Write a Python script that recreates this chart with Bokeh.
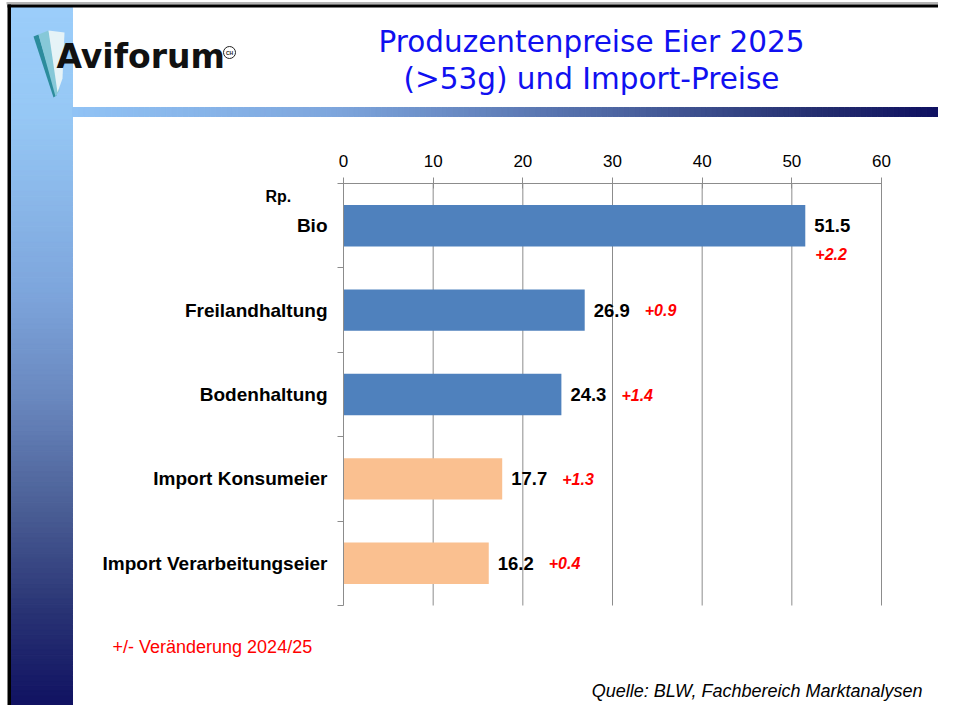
from bokeh.plotting import figure
from bokeh.models import Range1d, LinearAxis, FixedTicker, Label, ColumnDataSource
from bokeh.core.properties import value
from bokeh.embed import file_html
from bokeh.resources import INLINE

# ---------------- data ----------------
categories = ["Bio", "Freilandhaltung", "Bodenhaltung", "Import Konsumeier", "Import Verarbeitungseier"]
prices = [51.5, 26.9, 24.3, 17.7, 16.2]
changes = [2.2, 0.9, 1.4, 1.3, 0.4]
origin = ["CH", "CH", "CH", "Import", "Import"]
x_ticks = [0, 10, 20, 30, 40, 50, 60]
title_lines = ["Produzentenpreise Eier 2025", "(>53g) und Import-Preise"]
unit_label = "Rp."
note_text = "+/- Veränderung 2024/25"
source_text = "Quelle: BLW, Fachbereich Marktanalysen"
logo_text = "Aviforum"

# ---------------- layout ----------------
W, H = 938, 705
CL, CR, CT, CB = 343, 881, 183, 605          # chart area in canvas pixels
n = len(categories)
xmin, xmax = x_ticks[0], x_ticks[-1]
ppu_x = (CR - CL) / (xmax - xmin)
ppu_y = (CB - CT) / n
x_range = Range1d(xmin - CL / ppu_x, xmax + (W - CR) / ppu_x)
y_range = Range1d(start=n - 0.5 + (H - CB) / ppu_y, end=-0.5 - CT / ppu_y)

p = figure(width=W, height=H, x_range=x_range, y_range=y_range,
           output_backend="svg", toolbar_location=None, tools="",
           x_axis_location=None, y_axis_location=None, min_border=0,
           outline_line_color=None, background_fill_color="white",
           border_fill_color="white")
p.grid.grid_line_color = None
p.extra_x_ranges = {"px": Range1d(0, W)}
p.extra_y_ranges = {"px": Range1d(H, 0)}

FONT = "Liberation Sans"
GRID = "#8c8c8c"


def interp(stops, t):
    for (t0, c0), (t1, c1) in zip(stops, stops[1:]):
        if t <= t1:
            f = (t - t0) / (t1 - t0) if t1 > t0 else 0
            c = [round(a + (b - a) * f) for a, b in zip(c0, c1)]
            return "#%02x%02x%02x" % tuple(c)
    return "#%02x%02x%02x" % tuple(stops[-1][1])


def px_label(x, y, text, **kw):
    p.add_layout(Label(x=x, y=y, x_range_name="px", y_range_name="px", text=text,
                       text_baseline="middle", **kw))


# ---------------- decorations ----------------
v_stops = [(0.0, (155, 205, 250)), (0.15, (150, 200, 245)), (0.4, (125, 165, 220)),
           (0.55, (105, 135, 190)), (0.7, (75, 95, 150)), (0.85, (40, 50, 115)),
           (1.0, (12, 12, 95))]
N = 140
y0v, y1v = 7, 721
ys = [y0v + (y1v - y0v) * i / N for i in range(N + 1)]
vcols = [interp(v_stops, (i + 0.5) / N) for i in range(N)]
p.quad(left=10.5, right=72, top=ys[:-1], bottom=ys[1:], fill_color=vcols,
       line_color=vcols, line_width=1, x_range_name="px", y_range_name="px")

h_stops = [(0.0, (145, 195, 245)), (0.3, (125, 165, 220)), (0.6, (80, 105, 165)),
           (0.85, (35, 45, 110)), (1.0, (12, 12, 95))]
M = 160
x_end = 954
xs = [72 + (x_end - 72) * i / M for i in range(M + 1)]
hcols = [interp(h_stops, (i + 0.5) / M) for i in range(M)]
p.quad(left=xs[:-1], right=xs[1:], top=107, bottom=116, fill_color=hcols,
       line_color=hcols, line_width=1, x_range_name="px", y_range_name="px")

# frame lines
p.quad(left=6, right=W, top=1.5, bottom=4, fill_color="#b4b4b4", line_color=None,
       x_range_name="px", y_range_name="px")
p.quad(left=7, right=W, top=4, bottom=7, fill_color="black", line_color=None,
       x_range_name="px", y_range_name="px")
p.quad(left=7, right=10.5, top=4, bottom=H, fill_color="black", line_color=None,
       x_range_name="px", y_range_name="px")

# logo feather
p.patches(xs=[[33, 38, 56, 53], [38, 48, 59, 55], [48, 64, 62, 57]],
          ys=[[36, 34, 95, 97], [34, 30, 90, 96], [30, 32, 78, 92]],
          fill_color=["#2c8c9c", "#86c8d8", "#e6f3f7"], line_color=None,
          x_range_name="px", y_range_name="px")
px_label(56, 56, logo_text, text_font="DejaVu Sans", text_font_style="bold",
         text_font_size="33px", text_color="#111111")
p.circle(x=[229], y=[52], radius=6, fill_color=None, line_color="#222222", line_width=1,
         x_range_name="px", y_range_name="px")
px_label(229, 52, "CH", text_font=FONT, text_font_style="bold", text_font_size="5px",
         text_align="center", text_color="#222222")

# title
for i, line in enumerate(title_lines):
    px_label(591, 41 + 37.5 * i, line, text_font="DejaVu Sans", text_font_size="29.5px",
             text_color="#1010f0", text_align="center")

# ---------------- chart ----------------
idx = list(range(n))
bar_colors = ["#4F81BD" if o == "CH" else "#FAC090" for o in origin]

p.segment(x0=x_ticks[1:], x1=x_ticks[1:], y0=-0.5, y1=n - 0.5,
          line_color=GRID, line_width=1)

p.hbar(y=idx, left=0, right=prices, height=0.49, fill_color=bar_colors, line_color=None)

xaxis = LinearAxis(ticker=FixedTicker(ticks=x_ticks), fixed_location=-0.5,
                   bounds=(xmin, xmax), axis_line_color=GRID,
                   major_tick_line_color=GRID, major_tick_in=5, major_tick_out=6,
                   minor_tick_line_color=None, major_label_text_font=FONT,
                   major_label_text_font_size="17px", major_label_text_color="black",
                   major_label_standoff=11)
p.add_layout(xaxis, "above")

ytick_axis = LinearAxis(ticker=FixedTicker(ticks=[i - 0.5 for i in range(n + 1)]),
                        fixed_location=xmin, bounds=(-0.5, n - 0.5),
                        axis_line_color=GRID, major_tick_line_color=GRID,
                        major_tick_in=0, major_tick_out=6, minor_tick_line_color=None,
                        major_label_text_color=None)
p.add_layout(ytick_axis, "left")

ylabel_axis = LinearAxis(ticker=FixedTicker(ticks=idx), fixed_location=xmin,
                         axis_line_color=None, major_tick_line_color=None,
                         major_tick_in=0, major_tick_out=0,
                         minor_tick_line_color=None,
                         major_label_overrides={i: c for i, c in enumerate(categories)},
                         major_label_text_font=FONT, major_label_text_font_style="bold",
                         major_label_text_font_size="19px", major_label_text_color="black",
                         major_label_standoff=16)
p.add_layout(ylabel_axis, "left")

# value labels
p.text(x=prices, y=idx, text=[f"{v:.1f}" for v in prices], x_offset=9,
       text_baseline="middle", text_align="left", text_font=value(FONT),
       text_font_style="bold", text_font_size="18.5px", text_color="black")

below = [v * ppu_x + 95 > (xmax - xmin) * ppu_x for v in prices]
chg_src = ColumnDataSource(dict(
    x=prices,
    y=[i + (28 / ppu_y if b else 0) for i, b in zip(idx, below)],
    dx=[10 if b else 60 for b in below],
    t=[f"+{c:.1f}" for c in changes],
))
p.text(x="x", y="y", text="t", x_offset="dx", source=chg_src, text_baseline="middle",
       text_align="left", text_font=value(FONT), text_font_style="bold italic",
       text_font_size="16px", text_color="#ff0000")

px_label(265, 196, unit_label, text_font=FONT, text_font_style="bold",
         text_font_size="16px", text_color="black")

px_label(112, 646, note_text, text_font=FONT, text_font_size="18px", text_color="#ff0000")
px_label(922, 690, source_text, text_font=FONT, text_font_style="italic",
         text_font_size="18px", text_color="black", text_align="right")

open("out.html", "w").write(file_html(p, INLINE))
